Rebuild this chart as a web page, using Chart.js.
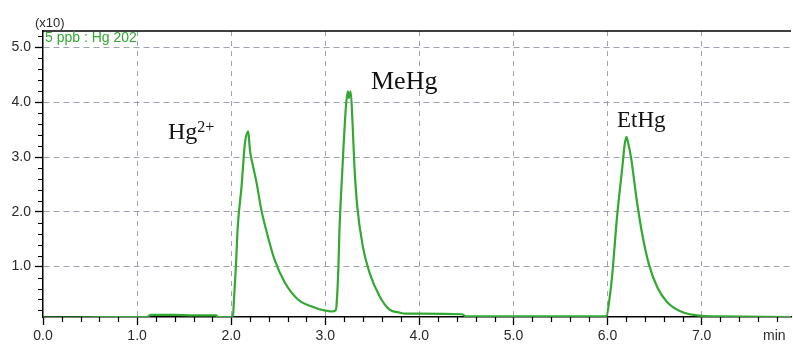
<!DOCTYPE html>
<html><head><meta charset="utf-8">
<script src="https://cdn.jsdelivr.net/npm/chart.js@4"></script>
<style>html,body{margin:0;padding:0;background:#fff}#wrap{width:793px;height:344px;position:relative}</style>
</head><body><div id="wrap"><canvas id="c"></canvas></div>
<script>
// retention time (min)
const timeMin = [0.00,0.30,0.60,0.90,1.10,1.15,1.40,1.60,1.84,1.86,2.00,2.02,2.03,2.05,2.07,2.11,2.14,2.15,2.18,2.19,2.20,2.23,2.27,2.32,2.39,2.46,2.57,2.71,2.89,2.99,3.07,3.11,3.12,3.14,3.15,3.18,3.22,3.24,3.25,3.27,3.29,3.31,3.34,3.40,3.47,3.58,3.68,3.79,3.86,4.00,4.45,4.50,5.00,5.50,5.95,5.99,6.02,6.05,6.10,6.16,6.18,6.20,6.22,6.25,6.31,6.37,6.44,6.53,6.63,6.78,7.00,7.20,7.95];
// signal (x10)
const signal = [0.07,0.07,0.08,0.08,0.08,0.12,0.12,0.11,0.11,0.08,0.08,0.12,0.40,1.00,1.73,2.46,3.14,3.30,3.47,3.32,3.12,2.85,2.53,2.04,1.55,1.13,0.71,0.40,0.25,0.20,0.18,0.20,0.30,1.00,1.62,2.71,3.93,4.20,4.08,4.20,3.62,2.83,2.10,1.36,0.89,0.45,0.22,0.16,0.14,0.14,0.13,0.09,0.09,0.09,0.09,0.10,0.40,0.85,1.89,2.86,3.20,3.37,3.25,2.99,2.22,1.58,1.04,0.62,0.36,0.18,0.10,0.09,0.08];
const xTickValues = [0,1,2,3,4,5,6,7];
const yTickValues = [1,2,3,4,5];
const seriesLabel = '5 ppb : Hg 202';
const yUnitLabel = '(x10)';
const xUnitLabel = 'min';
const peakNames = ['Hg', 'MeHg', 'EtHg'];
const hgCharge = '2+';

const points = timeMin.map((t, i) => ({x: t, y: signal[i]}));
const GREEN = '#33a833';
const GRID = 'rgba(130,130,150,0.75)';
const TXT = '#2a2a2a';

const extras = {
  id: 'extras',
  afterDraw(chart) {
    const {ctx, chartArea: a, scales: {x, y}} = chart;
    ctx.save();
    ctx.strokeStyle = '#000';
    ctx.lineWidth = 1.5;
    ctx.beginPath(); ctx.moveTo(a.left, a.top); ctx.lineTo(a.right, a.top); ctx.stroke();
    ctx.lineWidth = 1.2;
    ctx.beginPath();
    for (let k = 1; k * 0.2 <= x.max + 1e-9; k++) {
      if (k % 5 === 0) continue;
      const px = Math.round(x.getPixelForValue(k * 0.2)) + 0.5;
      ctx.moveTo(px, a.bottom); ctx.lineTo(px, a.bottom + 5);
    }
    for (let k = 1; k * 0.2 <= y.max + 1e-9; k++) {
      if (k % 5 === 0) continue;
      const py = Math.round(y.getPixelForValue(k * 0.2)) + 0.5;
      if (py > a.bottom) continue;
      ctx.moveTo(a.left, py); ctx.lineTo(a.left - 5, py);
    }
    ctx.stroke();
    ctx.fillStyle = TXT;
    ctx.font = '13px "Liberation Sans", Arial, sans-serif';
    ctx.textBaseline = 'alphabetic';
    ctx.textAlign = 'left';
    ctx.fillText(yUnitLabel, 35, 27);
    ctx.font = '14px "Liberation Sans", Arial, sans-serif';
    ctx.fillText(xUnitLabel, 763, 340);
    ctx.fillStyle = GREEN;
    ctx.font = '14px "Liberation Sans", Arial, sans-serif';
    ctx.fillText(seriesLabel, a.left + 2, a.top + 11);
    ctx.fillStyle = '#111';
    ctx.font = '24px "Liberation Serif", "Times New Roman", serif';
    ctx.fillText(peakNames[0], 168, 139);
    const w = ctx.measureText(peakNames[0]).width;
    ctx.font = '16px "Liberation Serif", "Times New Roman", serif';
    ctx.fillText(hgCharge, 168 + w, 132);
    ctx.font = '26px "Liberation Serif", "Times New Roman", serif';
    ctx.fillText(peakNames[1], 371, 89);
    ctx.font = '23px "Liberation Serif", "Times New Roman", serif';
    ctx.fillText(peakNames[2], 617, 127);
    ctx.restore();
  }
};

new Chart(document.getElementById('c'), {
  type: 'line',
  data: { datasets: [{ data: points, borderColor: GREEN, borderWidth: 2.2, pointRadius: 0, cubicInterpolationMode: 'monotone', fill: false }] },
  options: {
    responsive: true, maintainAspectRatio: false, animation: false, devicePixelRatio: 1,
    layout: { padding: { top: 31, right: 2, left: 0, bottom: 0 } },
    plugins: { legend: { display: false }, tooltip: { enabled: false } },
    scales: {
      x: {
        type: 'linear', min: 0, max: 7.95,
        afterBuildTicks: s => { s.ticks = xTickValues.map(v => ({value: v})); },
        afterFit: s => { s.height = 27; },
        ticks: { callback: v => v.toFixed(1), color: TXT, font: { size: 14, family: '"Liberation Sans", Arial' }, padding: 3, maxRotation: 0, autoSkip: false },
        grid: { color: c => (c.tick && c.tick.value === 0) ? 'rgba(0,0,0,0)' : GRID, lineWidth: 1, tickColor: '#000', tickLength: 8, tickWidth: 1.3 },
        border: { display: true, color: '#000', width: 1.5, dash: [5, 5] }
      },
      y: {
        type: 'linear', min: 0.08, max: 5.3,
        afterBuildTicks: s => { s.ticks = yTickValues.map(v => ({value: v})); },
        afterFit: s => { s.width = 43; },
        ticks: { callback: v => v.toFixed(1), color: TXT, font: { size: 14, family: '"Liberation Sans", Arial' }, padding: 4, autoSkip: false },
        grid: { color: GRID, lineWidth: 1, tickColor: '#000', tickLength: 8, tickWidth: 1.3 },
        border: { display: true, color: '#000', width: 1.5, dash: [6, 4] }
      }
    }
  },
  plugins: [extras]
});
</script>
</body></html>
